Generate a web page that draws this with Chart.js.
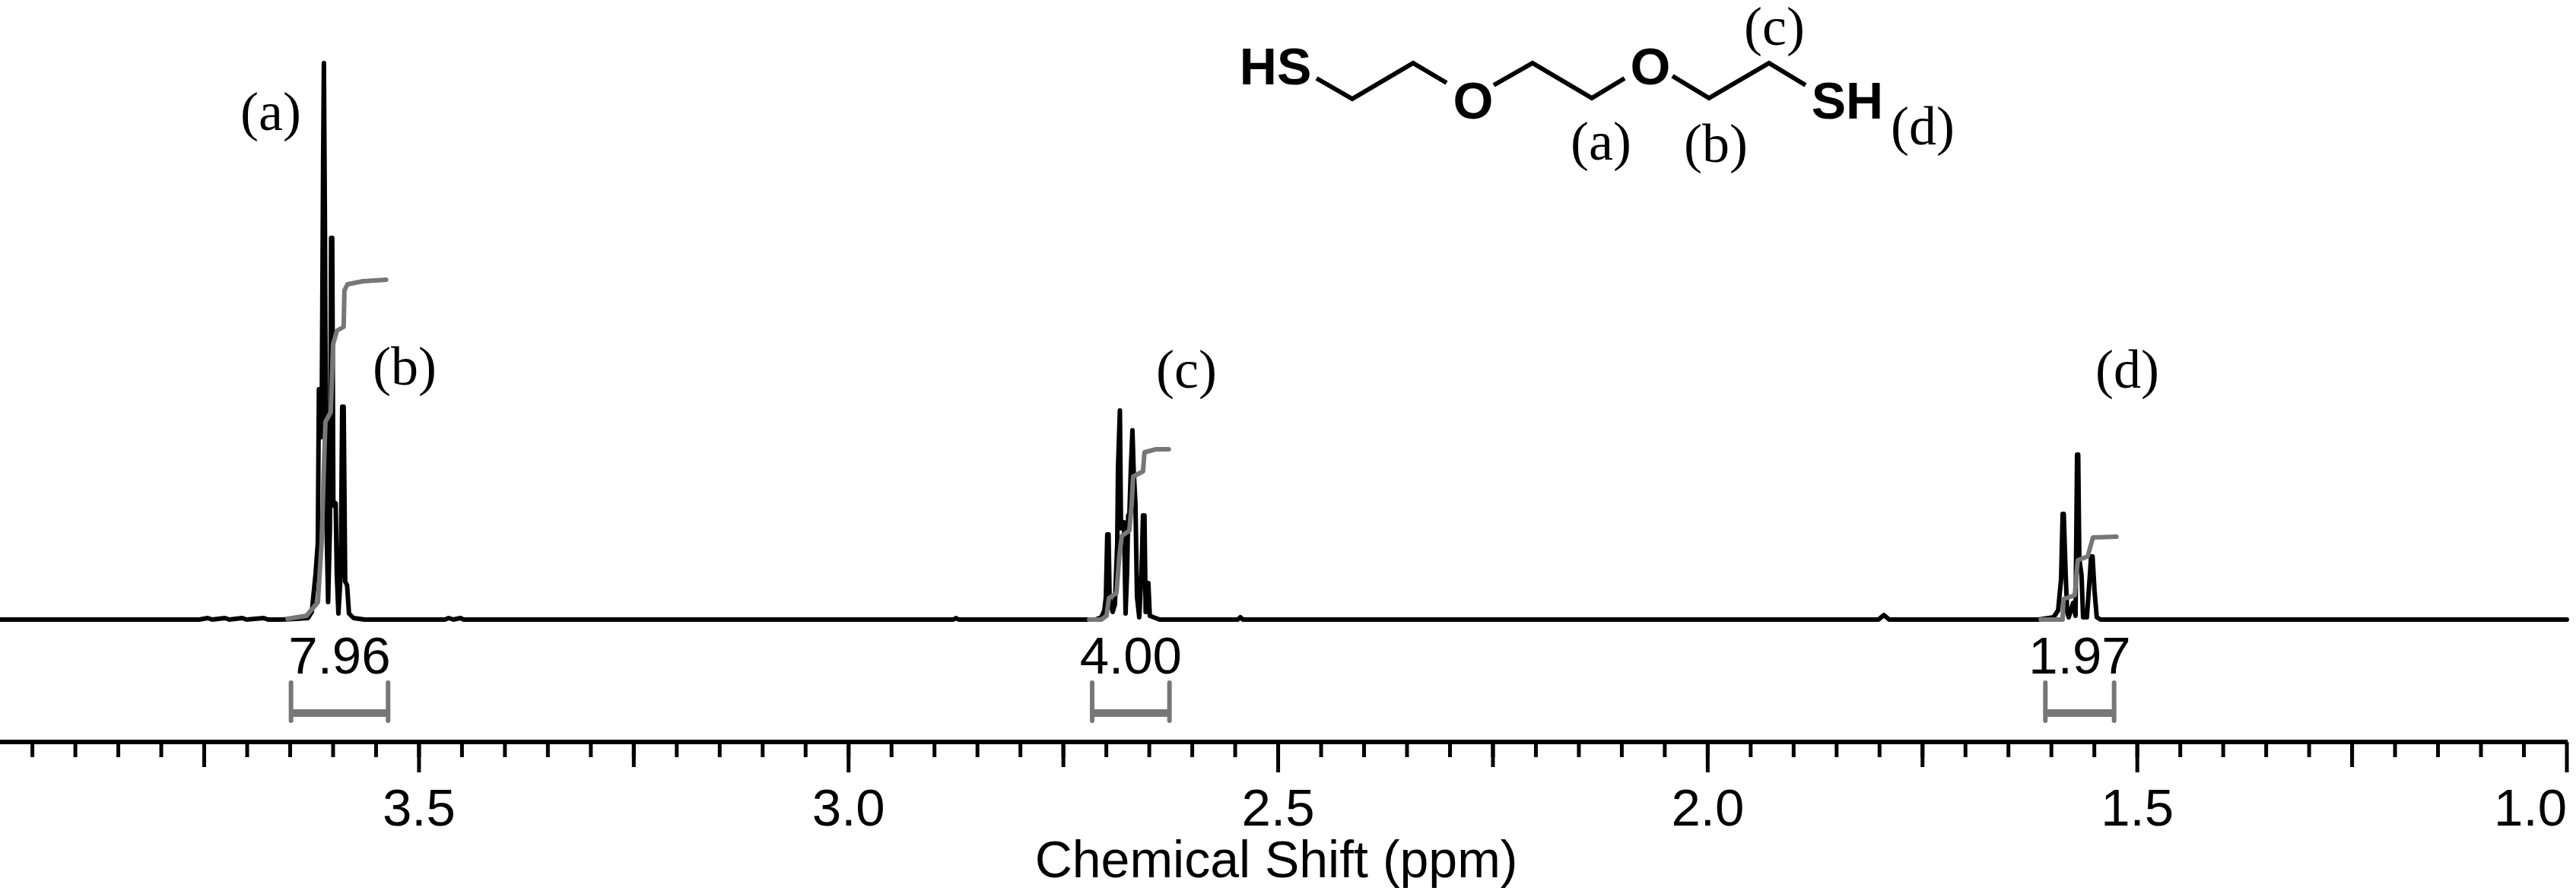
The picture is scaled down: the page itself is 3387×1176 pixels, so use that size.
<!DOCTYPE html>
<html>
<head>
<meta charset="utf-8">
<title>1H NMR spectrum</title>
<script src="https://cdn.jsdelivr.net/npm/chart.js@4/dist/chart.umd.min.js"></script>
<style>
  html, body { margin: 0; padding: 0; background: #fff; }
  canvas { display: block; }
</style>
</head>
<body>
<canvas id="nmrChart" width="3387" height="1176"></canvas>
<script>
// Spectrum: ppm and signal height
const spectrumPpm = [
  3.9877, 3.7558, 3.7458, 3.7408, 3.7258, 3.7208, 3.7058, 3.7008, 3.6808, 3.6758,
  3.6602, 3.6426, 3.6292, 3.6248, 3.6204, 3.6178, 3.6165, 3.6147, 3.6134, 3.6116,
  3.6107, 3.6094, 3.6081, 3.6058, 3.6037, 3.6023, 3.6010, 3.5997, 3.5970, 3.5957,
  3.5938, 3.5911, 3.5894, 3.5877, 3.5859, 3.5837, 3.5815, 3.5762, 3.5630, 3.4699,
  3.4655, 3.4599, 3.4519, 3.4479, 3.4439, 2.8780, 2.8750, 2.8720,
  2.7129, 2.7058, 2.7023, 2.7005, 2.6989, 2.6974, 2.6962, 2.6926, 2.6900, 2.6873,
  2.6864, 2.6842, 2.6829, 2.6812, 2.6794, 2.6776, 2.6759, 2.6745, 2.6732, 2.6714,
  2.6696, 2.6683, 2.6661, 2.6643, 2.6617, 2.6591, 2.6573, 2.6556, 2.6542, 2.6525,
  2.6511, 2.6494, 2.6450, 2.6379, 2.5470, 2.5440, 2.5410,
  1.8012, 1.7950, 1.7888,
  1.6151, 1.5975, 1.5922, 1.5887, 1.5869, 1.5856, 1.5834, 1.5816, 1.5799, 1.5746,
  1.5719, 1.5701, 1.5688, 1.5675, 1.5649, 1.5631, 1.5587, 1.5551, 1.5538, 1.5521,
  1.5498, 1.5472, 1.5428, 1.0000,
];
const spectrumHeight = [
  0, 0, 2, 0, 2, 0, 2, 0, 2, 0,
  0, 1, 2, 10, 60, 100, 303, 303, 240, 600,
  732, 500, 150, 23, 120, 502, 502, 150, 153, 60,
  8, 60, 280, 280, 50, 45, 8, 2, 0, 0,
  2, 0, 2, 0, 0, 0, 2, 0,
  0, 3, 12, 30, 112, 112, 30, 10, 20, 100,
  200, 275, 120, 128, 128, 8, 60, 137, 137, 200,
  249, 200, 152, 30, 3, 60, 137, 137, 10, 48,
  48, 5, 3, 0, 0, 3, 0,
  0, 6, 0,
  0, 3, 12, 53, 139, 139, 60, 10, 3, 22,
  5, 217, 217, 80, 58, 3, 3, 60, 83, 83,
  38, 3, 0, 0,
];

// Integral curves
const integralAPpm = [3.6530, 3.6309, 3.6177, 3.6133, 3.6106, 3.6089, 3.6027, 3.6000, 3.5956, 3.5877, 3.5868, 3.5833, 3.5656, 3.5383];
const integralAHeight = [1, 5, 23, 102, 204, 260, 273, 362, 380, 385, 433, 441, 445, 447];
const integralCPpm = [2.7200, 2.7058, 2.6997, 2.6970, 2.6882, 2.6847, 2.6820, 2.6732, 2.6705, 2.6688, 2.6573, 2.6556, 2.6423, 2.6273];
const integralCHeight = [0, 0, 5, 28, 35, 85, 110, 117, 152, 188, 195, 220, 224, 224];
const integralDPpm = [1.6125, 1.5869, 1.5860, 1.5728, 1.5693, 1.5578, 1.5516, 1.5243];
const integralDHeight = [0, 0, 27, 32, 78, 83, 108, 109];

// Integration ranges and their values
const integralLabels = ["7.96", "4.00", "1.97"];
const integralFrom = [3.649, 2.7165, 1.607];
const integralTo = [3.536, 2.6265, 1.527];

// Axis
const majorTicks = [3.5, 3.0, 2.5, 2.0, 1.5, 1.0];
const midTicks = [3.75, 3.25, 2.75, 2.25, 1.75, 1.25];
const minorStep = 0.05;
const axisMin = 1.0;
const axisMax = 3.9877;

const BLACK = "#000000";
const GREY = "#777777";
const SANS = "'Liberation Sans', Arial, sans-serif";
const SERIF = "'Liberation Serif', 'Times New Roman', serif";

function toPoints(xs, ys) {
  return xs.map((x, i) => ({ x: x, y: ys[i] }));
}

function lineDataset(data, color, width, cap) {
  return {
    data: data,
    borderColor: color,
    borderWidth: width,
    borderJoinStyle: "round",
    borderCapStyle: cap || "round",
    pointRadius: 0,
    tension: 0,
    fill: false,
    clip: false,
  };
}

// One bar and two thinner stems for each integration range
function bracketDatasets(from, to) {
  return [
    lineDataset([{ x: from, y: -123 }, { x: to, y: -123 }], GREY, 10, "butt"),
    lineDataset([
      { x: from, y: -83 }, { x: from, y: -133 }, { x: from, y: null },
      { x: to, y: -83 }, { x: to, y: -133 },
    ], GREY, 6, "butt"),
  ];
}

// Tick marks come in three lengths, which a single scale can't do
const tickMarks = {
  id: "tickMarks",
  afterDraw(chart) {
    const { ctx } = chart;
    const xScale = chart.scales.x;
    const yPos = chart.chartArea.bottom;
    const drawTick = (value, length) => {
      const px = xScale.getPixelForValue(value);
      ctx.beginPath();
      ctx.moveTo(px, yPos);
      ctx.lineTo(px, yPos + length);
      ctx.stroke();
    };
    ctx.save();
    ctx.strokeStyle = BLACK;
    ctx.lineWidth = 5;
    for (let i = 1; i * minorStep < axisMax - axisMin; i++) {
      drawTick(axisMin + i * minorStep, 20);
    }
    midTicks.forEach((value) => drawTick(value, 33));
    majorTicks.forEach((value) => drawTick(value, 40));
    ctx.restore();
  },
};

// Integral values, peak assignments and the structure drawing
const annotations = {
  id: "annotations",
  afterDraw(chart) {
    const { ctx } = chart;
    const xScale = chart.scales.x;
    const yScale = chart.scales.y;

    ctx.save();
    ctx.fillStyle = BLACK;
    ctx.textAlign = "center";
    ctx.textBaseline = "alphabetic";

    ctx.font = "69px " + SANS;
    integralLabels.forEach((label, i) => {
      const mid = (integralFrom[i] + integralTo[i]) / 2;
      ctx.fillText(label, xScale.getPixelForValue(mid), yScale.getPixelForValue(-71));
    });

    ctx.font = "72px " + SERIF;
    ctx.fillText("(a)", xScale.getPixelForValue(3.6726), yScale.getPixelForValue(644));
    ctx.fillText("(b)", xScale.getPixelForValue(3.5168), yScale.getPixelForValue(309));
    ctx.fillText("(c)", xScale.getPixelForValue(2.6068), yScale.getPixelForValue(305));
    ctx.fillText("(d)", xScale.getPixelForValue(1.5117), yScale.getPixelForValue(305));

    // the molecule sits in page space, not on the axes
    ctx.fillText("(a)", 2105, 210);
    ctx.fillText("(b)", 2256, 213);
    ctx.fillText("(c)", 2333, 59);
    ctx.fillText("(d)", 2528, 190);

    ctx.font = "bold 68px " + SANS;
    ctx.fillText("HS", 1677, 111);
    ctx.fillText("O", 1937, 156);
    ctx.fillText("O", 2170, 111);
    ctx.fillText("SH", 2429, 156);

    const bonds = [
      [[1731, 103], [1778, 130], [1858, 83], [1902, 109]],
      [[1964, 112], [2015, 83], [2093, 129], [2136, 103]],
      [[2199, 100], [2247, 129], [2326, 83], [2374, 112]],
    ];
    ctx.strokeStyle = BLACK;
    ctx.lineWidth = 6;
    ctx.lineJoin = "miter";
    bonds.forEach((bond) => {
      ctx.beginPath();
      bond.forEach((p, i) => (i === 0 ? ctx.moveTo(p[0], p[1]) : ctx.lineTo(p[0], p[1])));
      ctx.stroke();
    });
    ctx.restore();
  },
};

document.addEventListener("DOMContentLoaded", function () {
  const ctx = document.getElementById("nmrChart").getContext("2d");

  new Chart(ctx, {
    type: "line",
    data: {
      // Chart.js paints the first dataset last, and the grey sits over the black
      datasets: [
        lineDataset(toPoints(integralAPpm, integralAHeight), GREY, 6),
        lineDataset(toPoints(integralCPpm, integralCHeight), GREY, 6),
        lineDataset(toPoints(integralDPpm, integralDHeight), GREY, 6),
        lineDataset(toPoints(spectrumPpm, spectrumHeight), BLACK, 6),
        ...bracketDatasets(integralFrom[0], integralTo[0]),
        ...bracketDatasets(integralFrom[1], integralTo[1]),
        ...bracketDatasets(integralFrom[2], integralTo[2]),
      ],
    },
    options: {
      responsive: false,
      animation: false,
      events: [],
      spanGaps: false,
      layout: { padding: { top: 0, left: 0, right: 12, bottom: 0 } },
      plugins: {
        legend: { display: false },
        tooltip: { enabled: false },
      },
      scales: {
        x: {
          type: "linear",
          reverse: true,
          min: axisMin,
          max: axisMax,
          grid: { display: false, drawTicks: false },
          border: { display: true, color: BLACK, width: 6 },
          // inner keeps the 1.0 label inside the right edge; the blank
          // bound tick stops 3.5 being treated as the far end
          afterBuildTicks(scale) {
            scale.ticks = majorTicks.slice().reverse().map((v) => ({ value: v }));
            scale.ticks.push({ value: axisMax });
          },
          afterFit(scale) {
            scale.height = 200;
            scale.paddingLeft = 0;
            scale.paddingRight = 0;
          },
          ticks: {
            color: BLACK,
            align: "inner",
            padding: 50,
            maxRotation: 0,
            autoSkip: false,
            font: { family: SANS, size: 69 },
            callback: (value) => (majorTicks.includes(value) ? value.toFixed(1) : ""),
          },
          title: {
            display: true,
            // trailing space nudges the centred title left, as in the original
            text: "Chemical Shift (ppm) ",
            color: BLACK,
            font: { family: SANS, size: 68 },
            padding: { top: 0, bottom: 0 },
          },
        },
        y: { display: false, min: -161, max: 815 },
      },
    },
    plugins: [tickMarks, annotations],
  });
});
</script>
</body>
</html>
